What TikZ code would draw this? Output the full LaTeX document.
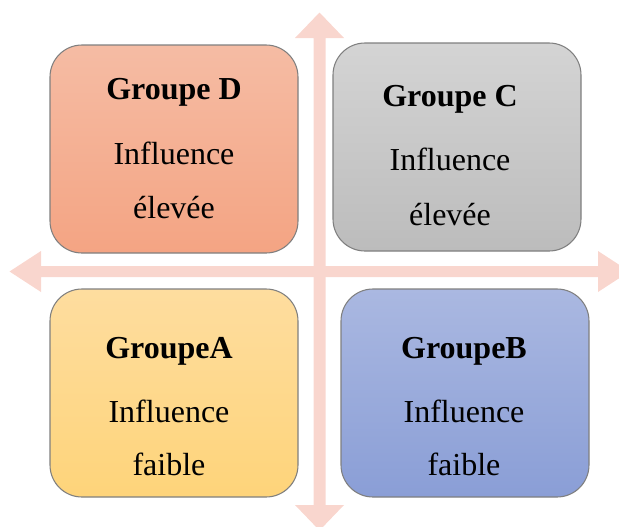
\documentclass[tikz,border=0pt]{standalone}
\usepackage{fontspec}
\setmainfont{Liberation Serif}
\definecolor{arrowpink}{HTML}{F9D6CE}
\definecolor{boxline}{HTML}{7F7F7F}
\definecolor{dTop}{HTML}{F5BCA4}
\definecolor{dBot}{HTML}{F4A483}
\definecolor{cTop}{HTML}{D4D4D4}
\definecolor{cBot}{HTML}{BCBCBC}
\definecolor{aTop}{HTML}{FEDD9F}
\definecolor{aBot}{HTML}{FED47A}
\definecolor{bTop}{HTML}{AAB8E1}
\definecolor{bBot}{HTML}{8A9ED6}
\begin{document}
\begin{tikzpicture}[x=0.75pt,y=-0.75pt,
  quad/.style={draw=boxline, line width=0.8pt, rounded corners=24pt,
    minimum width=186pt, minimum height=156pt, inner sep=0pt},
  title/.style={anchor=base, font=\fontsize{24}{28}\selectfont\bfseries, inner sep=0pt},
  body/.style={anchor=base, font=\fontsize{24}{28}\selectfont, inner sep=0pt}]
\useasboundingbox (0,0) rectangle (619,526);
\clip (0,0) rectangle (619,526);
% arrows
\fill[arrowpink] (319.5,12.5) -- (344,38) -- (325.5,38) -- (325.5,505) -- (344,505)
  -- (319.5,530.5) -- (295,505) -- (313.5,505) -- (313.5,38) -- (295,38) -- cycle;
\fill[arrowpink] (9.5,271.5) -- (41,251) -- (41,266) -- (598,266) -- (598,251)
  -- (629.5,271.5) -- (598,292) -- (598,277) -- (41,277) -- (41,292) -- cycle;
% boxes
\node[quad, top color=dTop, bottom color=dBot] (D) at (174,149) {};
\node[quad, top color=cTop, bottom color=cBot] (C) at (457,147) {};
\node[quad, top color=aTop, bottom color=aBot] (A) at (174,393) {};
\node[quad, top color=bTop, bottom color=bBot] (B) at (465,393) {};
% texts
\node[title] (Dt) at (174,99) {Groupe D};
\node[body] (D1) at (174,164) {Influence};
\node[body] (D2) at (174,218) {élevée};
\node[title] (Ct) at (450,106) {Groupe C};
\node[body] (C1) at (450,170) {Influence};
\node[body] (C2) at (450,225) {élevée};
\node[title] (At) at (169,358) {GroupeA};
\node[body] (A1) at (169,422) {Influence};
\node[body] (A2) at (169,475) {faible};
\node[title] (Bt) at (464,358) {GroupeB};
\node[body] (B1) at (464,422) {Influence};
\node[body] (B2) at (464,475) {faible};
\end{tikzpicture}
\end{document}
